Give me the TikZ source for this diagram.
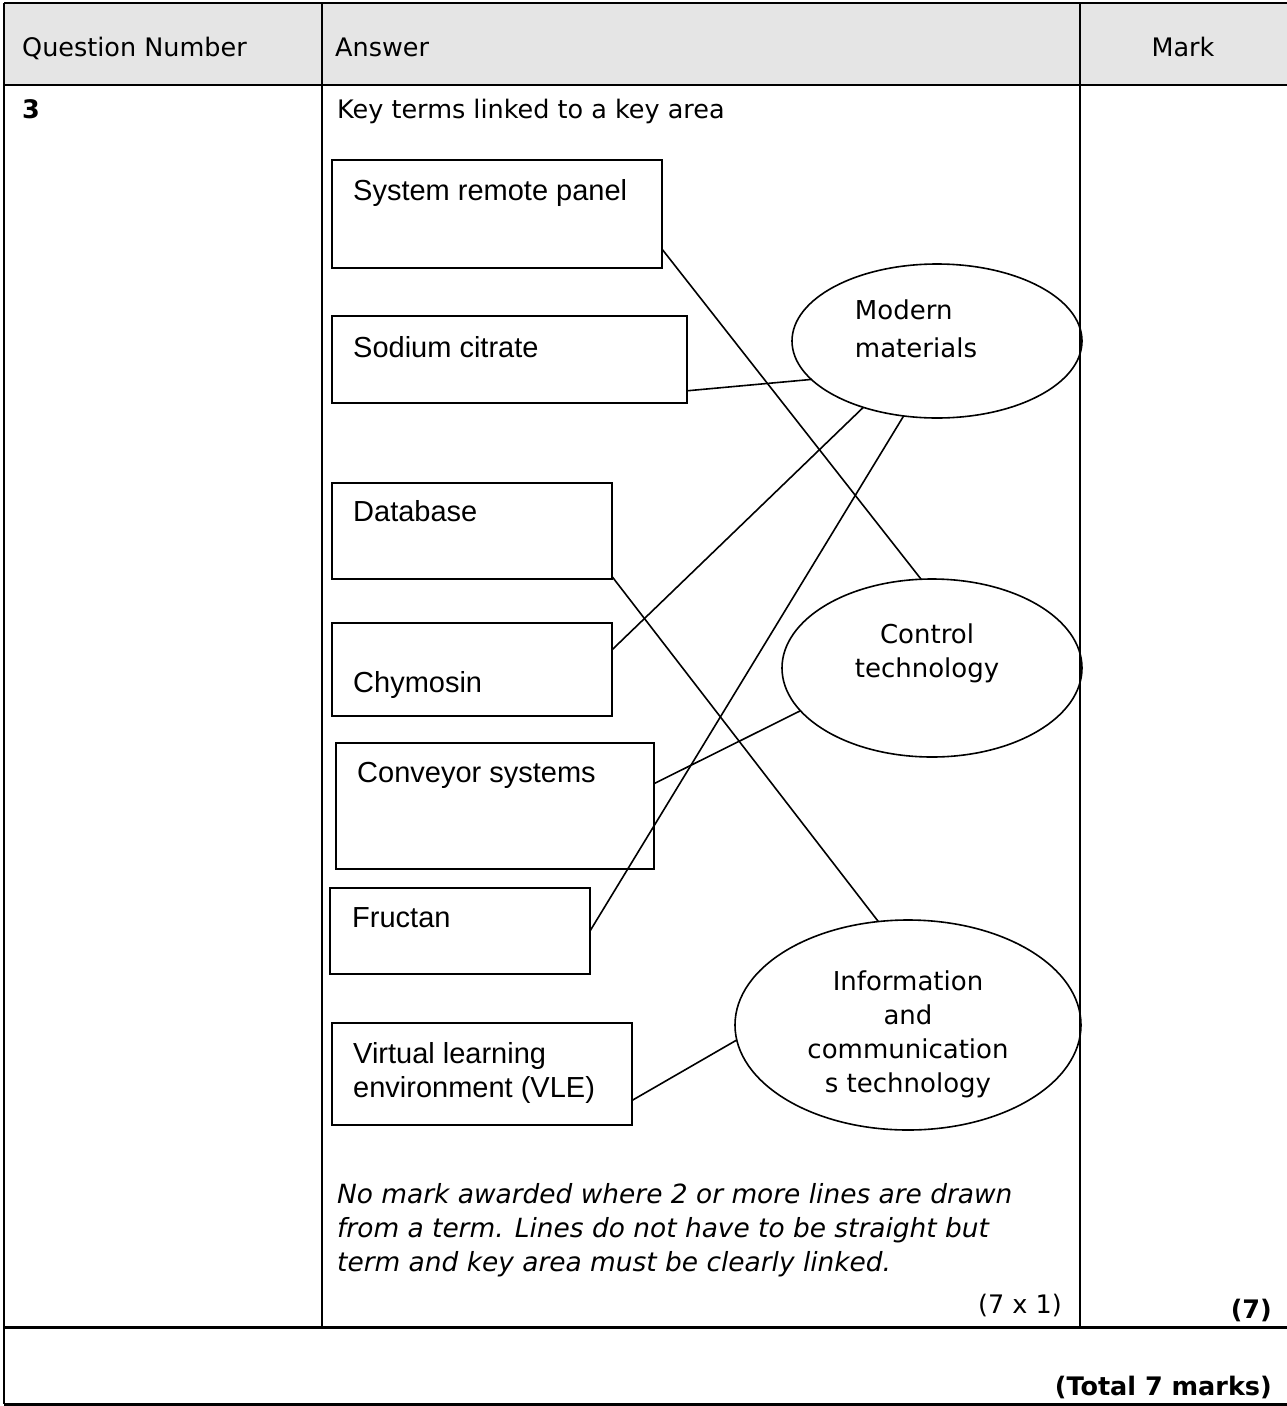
\documentclass[tikz,border=0pt]{standalone}
\usepackage{fontspec}
\setmainfont{DejaVu Sans}
\newfontfamily\arialfont{Liberation Sans}
\usetikzlibrary{shapes.geometric}

\tikzset{
  termbox/.style={draw, line width=2pt, inner sep=0pt, outer sep=0pt},
  termtext/.style={anchor=base west, inner sep=0pt, align=left, font=\arialfont\fontsize{29}{34}\selectfont},
  keyarea/.style={ellipse, draw, line width=1.6pt, inner sep=0pt, outer sep=0pt},
  areatext/.style={anchor=center, inner sep=0pt, font=\fontsize{26}{34}\selectfont},
  link/.style={line width=1.6pt},
  cell/.style={anchor=base west, inner sep=0pt, font=\fontsize{25.5}{30}\selectfont},
}

\begin{document}
\begin{tikzpicture}[x=1pt, y=-1pt]
  \useasboundingbox (0,0) rectangle (1287,1406);

  % table
  \fill[gray!20] (4,3) rectangle (1287,85);
  \draw[line width=1.5pt] (4,3) -- (1287,3);
  \draw[line width=2pt] (4,85) -- (1287,85);
  \draw[line width=3pt] (4,1327) -- (1287,1327);
  \draw[line width=3pt] (4,1404) -- (1287,1404);
  \draw[line width=2.5pt] (4,3) -- (4,1404);
  \draw[line width=2pt] (322,3) -- (322,1327);
  \draw[line width=2pt] (1080,3) -- (1080,1327);

  \node[cell] (qnum) at (22,56) {Question Number};
  \node[cell] (ans) at (335,56) {Answer};
  \node[cell, anchor=base] (mark) at (1183,56) {Mark};
  \node[cell, font=\fontsize{25.5}{30}\selectfont\bfseries] (three) at (22,118) {3};
  \node[cell] (intro) at (337,118) {Key terms linked to a key area};

  % key terms
  \node[termbox, minimum width=330, minimum height=108,
    label={[termtext, xshift=21, yshift=-40]north west:System remote panel}] (srp) at (497,214) {};
  \node[termbox, minimum width=355, minimum height=87,
    label={[termtext, xshift=21, yshift=-41]north west:Sodium citrate}] (sod) at (509.5,359.5) {};
  \node[termbox, minimum width=280, minimum height=96,
    label={[termtext, xshift=21, yshift=-38]north west:Database}] (dbase) at (472,531) {};
  \node[termbox, minimum width=280, minimum height=93,
    label={[termtext, xshift=21, yshift=-69]north west:Chymosin}] (chym) at (472,669.5) {};
  \node[termbox, minimum width=318, minimum height=126,
    label={[termtext, xshift=21, yshift=-39]north west:Conveyor systems}] (conv) at (495,806) {};
  \node[termbox, minimum width=260, minimum height=86,
    label={[termtext, xshift=22, yshift=-39]north west:Fructan}] (fruc) at (460,931) {};
  \node[termbox, minimum width=300, minimum height=102,
    label={[termtext, xshift=21, yshift=-74]north west:Virtual learning\\environment (VLE)}] (vle) at (482,1074) {};

  % key areas
  \node[keyarea, minimum width=290, minimum height=154,
    label={[areatext, align=left, font=\fontsize{26}{38}\selectfont, xshift=-21, yshift=12]center:Modern\\materials}] (mm) at (937,341) {};
  \node[keyarea, minimum width=300, minimum height=178,
    label={[areatext, align=center, xshift=-5, yshift=15]center:Control\\technology}] (ctl) at (932,668) {};
  \node[keyarea, minimum width=346, minimum height=210,
    label={[areatext, align=center, yshift=-9]center:Information\\and\\communication\\s technology}] (ict) at (908,1025) {};

  % links
  \draw[link] (srp.-12) -- (ctl.97);
  \draw[link] (sod.-10) -- (mm.-163);
  \draw[link] (chym.8) -- (mm.-138);
  \draw[link] (fruc.east) -- (mm.-114);
  \draw[link] (conv.8) -- (ctl.-162);
  \draw[link] (dbase.-18) -- (ict.106);
  \draw[link] (vle.-10) -- (ict.-175);

  % notes
  \node[cell, align=left, font=\fontsize{26.4}{34}\selectfont\itshape] (note) at (337,1271)
    {No mark awarded where 2 or more lines are drawn\\from a term. Lines do not have to be straight but\\term and key area must be clearly linked.};
  \node[cell, anchor=base east] (perterm) at (1062,1313) {(7 x 1)};
  \node[cell, anchor=base east, font=\fontsize{25.5}{30}\selectfont\bfseries] (sub) at (1272,1318) {(7)};
  \node[cell, anchor=base east, font=\fontsize{25.5}{30}\selectfont\bfseries] (total) at (1272,1395) {(Total 7 marks)};
\end{tikzpicture}
\end{document}
